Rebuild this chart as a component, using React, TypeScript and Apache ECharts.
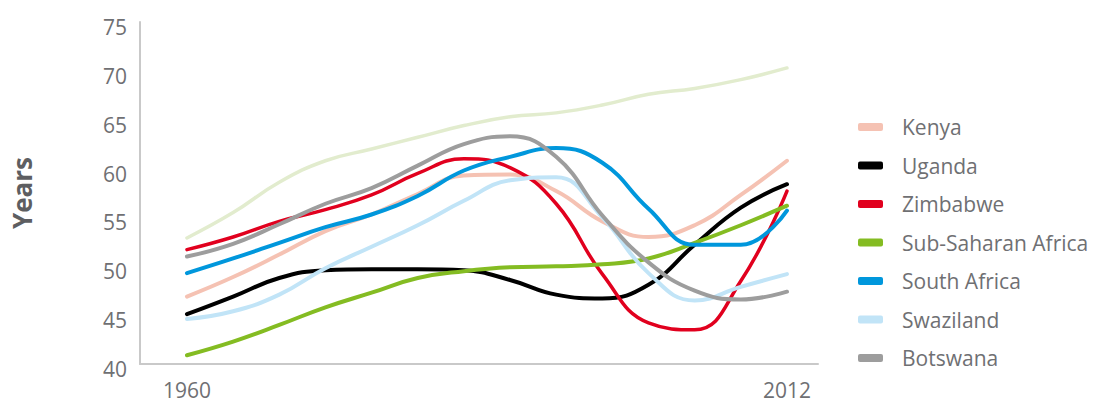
import React, { useEffect, useRef } from "react";
import * as echarts from "echarts";

// Life expectancy at birth (years), sampled every four years
const years = [1960, 1964, 1968, 1972, 1976, 1980, 1984, 1988, 1992, 1996, 2000, 2004, 2008, 2012];

const world = [52.9, 55.5, 58.6, 60.8, 62.0, 63.2, 64.4, 65.3, 65.7, 66.5, 67.6, 68.2, 69.1, 70.3];
const kenya = [46.9, 48.9, 51.2, 53.6, 55.3, 57.4, 59.3, 59.4, 57.7, 54.6, 53.0, 54.2, 57.3, 60.8];
const uganda = [45.1, 46.9, 48.8, 49.6, 49.7, 49.7, 49.6, 48.6, 47.1, 46.7, 48.1, 52.2, 56.0, 58.4];
const zimbabwe = [51.7, 53.0, 54.6, 55.8, 57.3, 59.5, 61.0, 60.1, 56.4, 49.2, 44.2, 43.5, 48.5, 57.7];
const subSaharan = [40.9, 42.3, 44.0, 45.8, 47.3, 48.8, 49.5, 49.9, 50.0, 50.2, 50.8, 52.4, 54.2, 56.2];
const southAfrica = [49.3, 50.8, 52.4, 54.0, 55.3, 57.2, 59.8, 61.2, 62.1, 60.6, 55.9, 52.2, 52.2, 55.7];
const swaziland = [44.6, 45.4, 47.1, 49.8, 52.0, 54.2, 56.7, 58.8, 59.1, 55.0, 49.3, 46.5, 47.9, 49.2];
const botswana = [51.0, 52.3, 54.3, 56.4, 58.0, 60.3, 62.5, 63.3, 61.2, 55.2, 50.4, 47.5, 46.6, 47.4];

const legendNames = ["Kenya", "Uganda", "Zimbabwe", "Sub-Saharan Africa", "South Africa", "Swaziland", "Botswana"];
const xLabels = [1960, 2012];

const FONT = "'Open Sans', 'Noto Sans', sans-serif";
const TEXT = "#6f7073";

const pairs = (vals: number[]) => years.map((y, i) => [y, vals[i]]);

const lineSeries = (name: string, vals: number[], color: string, width = 4) => ({
  name,
  type: "line",
  data: pairs(vals),
  smooth: 0.45,
  symbol: "none",
  color,
  lineStyle: { color, width, cap: "round" },
  emphasis: { disabled: true },
});

export default function App() {
  const ref = useRef<HTMLDivElement>(null);

  useEffect(() => {
    document.body.style.margin = "0";
    if (!ref.current) return;
    const chart = echarts.init(ref.current, undefined, { renderer: "svg" });
    chart.setOption({
      animation: false,
      backgroundColor: "#ffffff",
      grid: { left: 140, right: 281, top: 22, bottom: 41 },
      xAxis: {
        type: "value",
        min: 1955.93,
        max: 2014.69,
        splitLine: { show: false },
        axisTick: { show: false },
        axisLine: { lineStyle: { color: "#c9c9c9", width: 2 } },
        axisLabel: {
          customValues: xLabels,
          formatter: (v: number) => String(v),
          color: TEXT,
          fontFamily: FONT,
          fontSize: 21,
          margin: 15,
        },
      },
      yAxis: {
        type: "value",
        min: 40,
        max: 75,
        interval: 5,
        name: "Years",
        nameLocation: "middle",
        nameGap: 105,
        nameRotate: 90,
        nameTextStyle: { color: "#5d5e61", fontFamily: FONT, fontSize: 26, fontWeight: "bold" },
        splitLine: { show: false },
        axisTick: { show: false },
        axisLine: { show: true, lineStyle: { color: "#c9c9c9", width: 2 } },
        axisLabel: {
          color: TEXT,
          fontFamily: FONT,
          fontSize: 21,
          margin: 13,
          verticalAlign: "top",
          lineHeight: 10,
        },
      },
      legend: {
        data: legendNames,
        orient: "vertical",
        left: 853,
        top: 111,
        icon: "roundRect",
        itemWidth: 25,
        itemHeight: 8,
        itemGap: 16.5,
        selectedMode: false,
        textStyle: {
          color: TEXT,
          fontFamily: FONT,
          fontSize: 21,
          lineHeight: 22,
          padding: [0, 0, 0, 14],
        },
      },
      series: [
        lineSeries("World", world, "#e2ecce", 3.5),
        lineSeries("Kenya", kenya, "#f5c2b3"),
        lineSeries("Uganda", uganda, "#000000"),
        lineSeries("Zimbabwe", zimbabwe, "#e1001e", 3.5),
        lineSeries("Sub-Saharan Africa", subSaharan, "#84bc22"),
        lineSeries("South Africa", southAfrica, "#0097dc"),
        lineSeries("Swaziland", swaziland, "#c1e4f7"),
        lineSeries("Botswana", botswana, "#9d9d9d"),
      ],
    });
    return () => chart.dispose();
  }, []);

  return <div ref={ref} style={{ width: 1099, height: 405 }} />;
}
